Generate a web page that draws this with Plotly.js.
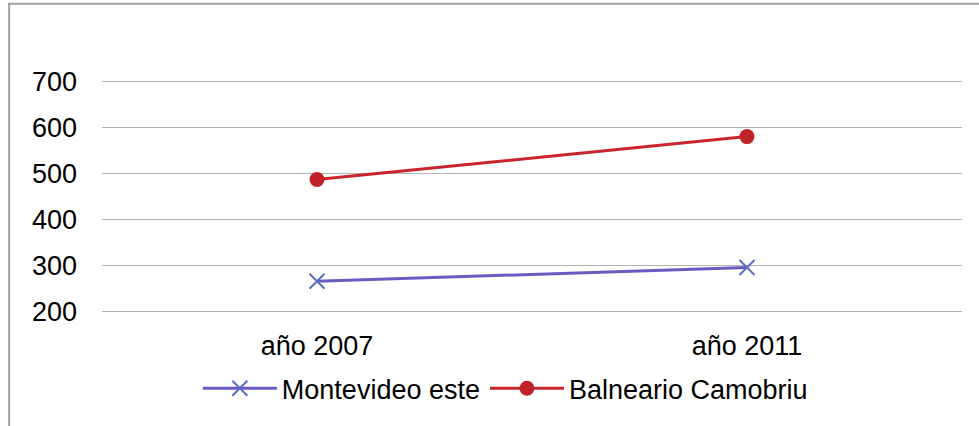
<!DOCTYPE html>
<html>
<head>
<meta charset="utf-8">
<script src="https://cdn.plot.ly/plotly-3.0.1.min.js"></script>
<style>html,body{margin:0;padding:0;background:#fff;}#chart{width:979px;height:426px;}</style>
</head>
<body>
<div id="chart"></div>
<script>
const categories = ["año 2007", "año 2011"];
const montevideoEste = [266, 296];
const balnearioCamobriu = [487, 580];
const seriesNames = ["Montevideo este", "Balneario Camobriu"];
const yTicks = [200, 300, 400, 500, 600, 700];

const traces = [
  {
    x: categories, y: montevideoEste, name: seriesNames[0],
    type: "scatter", mode: "lines+markers",
    line: {color: "#6a5bc4", width: 3},
    marker: {symbol: "x-thin", size: 15, color: "#5b6dc2", line: {color: "#5b6dc2", width: 2}}
  },
  {
    x: categories, y: balnearioCamobriu, name: seriesNames[1],
    type: "scatter", mode: "lines+markers",
    line: {color: "#c8262c", width: 3},
    marker: {symbol: "circle", size: 15, color: "#c0222a"}
  }
];

const layout = {
  width: 979, height: 426,
  margin: {l: 102, r: 17, t: 79, b: 112},
  paper_bgcolor: "#ffffff", plot_bgcolor: "#ffffff",
  font: {family: "Liberation Sans, Arial, sans-serif", size: 27, color: "#000"},
  showlegend: true,
  legend: {orientation: "h", x: 0.469, xanchor: "center", y: -0.318, yanchor: "middle",
           font: {size: 27, color: "#000"}, itemwidth: 74, tracegroupgap: 0},
  xaxis: {type: "category", range: [-0.5, 1.5], showgrid: false, showline: false, zeroline: false,
          ticks: "", ticklabelstandoff: 13, tickfont: {size: 27}},
  yaxis: {range: [195, 705], tickvals: yTicks, ticktext: yTicks.map(String),
          showgrid: true, gridcolor: "#b3b3b3", gridwidth: 1.5, showline: false, zeroline: false,
          ticks: "", ticklabelstandoff: 24, tickfont: {size: 27}},
  shapes: [{type: "rect", xref: "paper", yref: "paper",
            x0: -0.108, x1: 1.05, y0: -0.6, y1: 1.32,
            line: {color: "#a0a0a0", width: 2}, fillcolor: "rgba(0,0,0,0)", layer: "below"}]
};

Plotly.newPlot("chart", traces, layout, {displayModeBar: false, staticPlot: true});
</script>
</body>
</html>
